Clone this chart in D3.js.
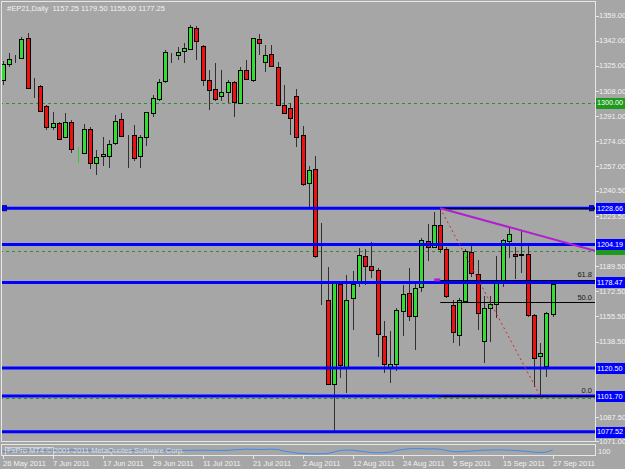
<!DOCTYPE html>
<html>
<head>
<meta charset="utf-8">
<script src="https://cdnjs.cloudflare.com/ajax/libs/d3/7.8.5/d3.min.js"></script>
<style>
    body { margin: 0; background: #a6a6a6; }
    text { font-family: "Liberation Sans", Arial, sans-serif; font-size: 7.5px; }
</style>
</head>
<body>
<div id="chart"></div>
<script>
// #EP21 daily bars, 26 May 2011 .. 27 Sep 2011
const opens = [1316, 1326, 1329, 1330, 1343.5, 1311, 1311.25, 1297.75, 1283.5, 1286.5,
    1277, 1287, 1263.25, 1266.25, 1282.25, 1259.5, 1263.5, 1264, 1272.5, 1288.75,
    1278.25, 1278.25, 1263.5, 1276.5, 1293.25, 1303, 1314.75, 1333.5, 1332.75, 1334.5,
    1336.75, 1350.25, 1338.5, 1315.5, 1309, 1304, 1307, 1314, 1300, 1322.25,
    1315, 1343, 1327.5, 1333, 1324.5, 1298.5, 1296.25, 1304.5, 1278.25, 1246,
    1255, 1196.5, 1166.5, 1109.75, 1177.25, 1121, 1167.75, 1179, 1196.5, 1189.5,
    1187, 1142.5, 1121.5, 1123.5, 1159.5, 1171.5, 1155.75, 1175.25, 1206.5, 1202.75,
    1217.5, 1201, 1163.25, 1142.5, 1166, 1199.25, 1184.25, 1138.5, 1161, 1163.75,
    1178.25, 1206.5, 1197.75, 1196.75, 1197.75, 1156.5, 1128.25, 1122, 1157.25];
const highs = [1328, 1333.5, 1332, 1344.75, 1347, 1316.5, 1312, 1298.5, 1294, 1287.25,
    1293, 1288.25, 1270.25, 1285.5, 1283.75, 1268, 1276.5, 1274.75, 1291.75, 1293,
    1278.5, 1285, 1278, 1293.75, 1305.25, 1316, 1335.75, 1333.75, 1338, 1340.25,
    1352.5, 1352, 1339, 1322.25, 1327, 1322.25, 1315.5, 1315, 1324.5, 1329,
    1343.5, 1346.5, 1339, 1339, 1327.75, 1312, 1300, 1309, 1284.25, 1257.5,
    1264, 1218.5, 1188.75, 1178, 1178, 1183.5, 1186.25, 1201.5, 1201, 1206,
    1188, 1152.5, 1145.75, 1161, 1176.75, 1188, 1178.5, 1208.5, 1218, 1226,
    1228.66, 1202.75, 1166.5, 1167.75, 1201, 1203.25, 1193.75, 1169.25, 1169.25, 1196,
    1208, 1215, 1202.75, 1214, 1203.75, 1157, 1137.75, 1158.75, 1179.5];
const lows = [1312, 1324.5, 1327, 1329.5, 1309.5, 1303, 1294, 1281.5, 1281.5, 1274.5,
    1276.5, 1265.75, 1259, 1265.75, 1255, 1251.25, 1257.25, 1255.75, 1271.5, 1277,
    1256, 1260.25, 1256, 1270.75, 1290.5, 1301, 1313.25, 1327, 1329, 1326.75,
    1336, 1329, 1311.25, 1295, 1301.5, 1301.5, 1300, 1290.5, 1299.5, 1315.5,
    1313.75, 1332.25, 1321, 1324.5, 1297.75, 1292.5, 1278.25, 1270, 1243.75, 1229.75,
    1195, 1163.25, 1109.25, 1077.52, 1113.75, 1103.5, 1146.5, 1175.5, 1176.75, 1181.25,
    1128.25, 1117.5, 1110.75, 1118.25, 1142.25, 1152.5, 1132.5, 1172.25, 1193.25, 1202.25,
    1198.5, 1167.75, 1137.75, 1135.5, 1165.25, 1182, 1146.5, 1123.75, 1138.5, 1154.25,
    1175.5, 1194.75, 1180.5, 1184.75, 1155, 1108, 1101.7, 1114.5, 1155];
const closes = [1326.5, 1329.5, 1329, 1343, 1310, 1311, 1294.5, 1283.5, 1286, 1276,
    1287, 1269, 1263.5, 1282.25, 1259.5, 1263.5, 1265, 1272, 1287.5, 1277.5,
    1278.25, 1263, 1276.5, 1293.5, 1303.5, 1314.25, 1334.5, 1333.5, 1334.5, 1336.75,
    1351.5, 1341.25, 1315.5, 1309, 1302.25, 1307, 1314, 1300.75, 1322.25, 1316,
    1343.5, 1340.25, 1332.25, 1325, 1298.5, 1293.25, 1289.5, 1277, 1245, 1254.5,
    1196, 1196.5, 1109.75, 1178, 1122.25, 1166.25, 1177.25, 1197, 1190, 1186.5,
    1143.75, 1123.5, 1123.5, 1160, 1170.75, 1155.75, 1174.5, 1207.25, 1202.25, 1217.5,
    1201, 1169, 1145.25, 1166.25, 1199.75, 1184.75, 1157.75, 1161, 1163.75, 1178,
    1207.25, 1211.25, 1196.5, 1197.5, 1156.5, 1127.5, 1130.5, 1157.75, 1177.25];

// oscillator in the lower window (0..100)
const oscValues = [35, 30, 40, 45, 48, 50, 48, 47, 48, 47,
    46, 47, 48, 49, 48, 47, 46, 47, 48, 47,
    46, 47, 48, 49, 50, 49, 48, 47, 46, 47,
    46, 47, 48, 47, 46, 45, 46, 52, 55, 58,
    57, 55, 56, 58, 55, 40, 30, 20, 15, 12,
    10, 12, 15, 30, 45, 50, 48, 40, 32, 25,
    22, 24, 28, 45, 55, 62, 64, 63, 60, 62,
    58, 45, 35, 32, 36, 40, 45, 48, 50, 52,
    50, 48, 45, 40, 35, 28, 25, 30, 50];

const dateLabels = ['26 May 2011', '7 Jun 2011', '17 Jun 2011', '29 Jun 2011', '11 Jul 2011', '21 Jul 2011',
    '2 Aug 2011', '12 Aug 2011', '24 Aug 2011', '5 Sep 2011', '15 Sep 2011', '27 Sep 2011'];
const dateStep = 8;

const priceTicks = [1359, 1342, 1325, 1308, 1291, 1274, 1257, 1240.5, 1223.5, 1206.5,
    1189.5, 1172.5, 1155.5, 1138.5, 1121.5, 1104.5, 1087.5, 1071];

const hLevels = [1228.66, 1204.19, 1178.47, 1120.50, 1101.70, 1077.52];
const roundLevels = [1300, 1200, 1100];

const fibLow = 1101.70, fibHigh = 1228.66;
const fibLevels = [0, 50, 61.8, 100];
const fibStartBar = 70, fibEndBar = 86;

// trend line anchors: [bar, price]
const trendStart = [70, 1228.66];
const trendEnd = [86, 1210.1];

const title = '#EP21,Daily  1157.25 1179.50 1155.00 1177.25';

const W = 625, H = 469;
const plotRight = 595, plotBottom = 441;

const svg = d3.select('#chart').append('svg')
    .attr('width', W)
    .attr('height', H)
    .style('display', 'block');

svg.append('rect').attr('width', W).attr('height', H).attr('fill', '#a6a6a6');

const x = d3.scaleLinear().domain([0, 88]).range([2.7, 552.7]);
const y = d3.scaleLinear().domain([1071, 1359]).range([441.3, 15.5]);
const yOsc = d3.scaleLinear().domain([0, 100]).range([455, 445]);
const px = i => Math.round(x(i));

svg.append('defs').append('clipPath').attr('id', 'plot')
    .append('rect').attr('x', 1).attr('y', 1).attr('width', plotRight - 1).attr('height', plotBottom - 1);

const plot = svg.append('g').attr('clip-path', 'url(#plot)');

// round number dashed lines
plot.selectAll('.round').data(roundLevels).join('line')
    .attr('x1', 0).attr('x2', plotRight)
    .attr('y1', d => Math.round(y(d)) + 0.5).attr('y2', d => Math.round(y(d)) + 0.5)
    .attr('stroke', '#2f8f2f').attr('stroke-dasharray', '3,3');

// candles
const bars = d3.range(opens.length).map(i => ({ i, o: opens[i], h: highs[i], l: lows[i], c: closes[i] }));
const candle = plot.selectAll('.candle').data(bars).join('g').attr('shape-rendering', 'crispEdges');

candle.append('line')
    .attr('x1', d => px(d.i) + 0.5).attr('x2', d => px(d.i) + 0.5)
    .attr('y1', d => y(d.h)).attr('y2', d => y(d.l))
    .attr('stroke', d => d.i === 12 ? '#30d030' : '#303030');

candle.append('rect')
    .attr('x', d => px(d.i) - 1.5)
    .attr('width', 4)
    .attr('y', d => Math.round(y(Math.max(d.o, d.c))) + 0.5)
    .attr('height', d => Math.max(Math.round(Math.abs(y(d.o) - y(d.c))), 0))
    .attr('fill', d => d.c > d.o ? '#33dd33' : (d.c < d.o ? '#ee1111' : 'none'))
    .attr('stroke', d => d.i === 12 ? '#30d030' : '#000');

// horizontal support / resistance lines
plot.selectAll('.hl').data(hLevels).join('line')
    .attr('x1', 0).attr('x2', plotRight)
    .attr('y1', d => y(d)).attr('y2', d => y(d))
    .attr('stroke', '#0000ff').attr('stroke-width', 3);

// small anchor squares on the top line
[4.5, 591.5].forEach(cx => {
    plot.append('rect')
        .attr('x', cx - 2).attr('y', y(hLevels[0]) - 2.5)
        .attr('width', 4).attr('height', 5)
        .attr('fill', '#0000ff').attr('stroke', '#0000a0');
});

// fibonacci levels
const fibPrice = lv => fibLow + (fibHigh - fibLow) * lv / 100;
plot.selectAll('.fib').data(fibLevels).join('line')
    .attr('x1', x(fibStartBar)).attr('x2', plotRight)
    .attr('y1', d => Math.round(y(fibPrice(d))) + 0.5).attr('y2', d => Math.round(y(fibPrice(d))) + 0.5)
    .attr('stroke', '#000').attr('stroke-width', 1);
plot.append('line')
    .attr('x1', x(fibStartBar) - 6).attr('x2', x(fibStartBar))
    .attr('y1', y(fibPrice(61.8))).attr('y2', y(fibPrice(61.8)))
    .attr('stroke', '#b020d0').attr('stroke-width', 3);
plot.selectAll('.fibtxt').data(fibLevels.filter(d => d < 100)).join('text')
    .attr('x', 592).attr('y', d => y(fibPrice(d)) - 2.5)
    .attr('text-anchor', 'end')
    .attr('fill', '#1a1a1a')
    .text(d => d.toFixed(1));

// fib diagonal
plot.append('line')
    .attr('x1', x(fibStartBar)).attr('y1', y(fibHigh))
    .attr('x2', x(fibEndBar)).attr('y2', y(fibLow))
    .attr('stroke', '#e02020').attr('stroke-dasharray', '2,3');

// trend line ray
const slope = (y(trendEnd[1]) - y(trendStart[1])) / (x(trendEnd[0]) - x(trendStart[0]));
plot.append('line')
    .attr('x1', x(trendStart[0])).attr('y1', y(trendStart[1]))
    .attr('x2', plotRight).attr('y2', y(trendStart[1]) + slope * (plotRight - x(trendStart[0])))
    .attr('stroke', '#b020d0').attr('stroke-width', 2);

// window frames
const frame = svg.append('g').attr('fill', 'none').attr('stroke', '#e6e6e6').attr('shape-rendering', 'crispEdges');
frame.append('rect').attr('x', 1.5).attr('y', 1.5).attr('width', plotRight - 1).attr('height', plotBottom - 1);
frame.append('rect').attr('x', 1.5).attr('y', 444.5).attr('width', plotRight - 1).attr('height', 11);

// price axis (labels hidden under a price tag are left out)
const tagged = roundLevels.concat(hLevels);
const visibleTicks = priceTicks.filter(t => !tagged.some(v => Math.abs(y(v) - y(t)) < 7));
const axis = svg.append('g').attr('shape-rendering', 'crispEdges');
axis.selectAll('.tick').data(priceTicks).join('line')
    .attr('x1', plotRight).attr('x2', plotRight + 4)
    .attr('y1', d => Math.round(y(d)) + 0.5).attr('y2', d => Math.round(y(d)) + 0.5)
    .attr('stroke', '#e6e6e6');
svg.selectAll('.ptxt').data(visibleTicks).join('text')
    .attr('x', 599).attr('y', d => y(d) + 2.7)
    .attr('fill', '#f2f2f2')
    .text(d => d.toFixed(2));

// price tags for round lines and levels
const tag = (v, color, dy) => {
    svg.append('rect')
        .attr('x', 596).attr('y', Math.round(y(v)) - 5 + dy)
        .attr('width', 30).attr('height', 11)
        .attr('fill', color);
    svg.append('text')
        .attr('x', 597).attr('y', y(v) + 2.7 + dy)
        .attr('fill', '#ffffff')
        .style('font-size', '7.2px')
        .text(v.toFixed(2));
};
tag(roundLevels[0], '#1e9a1e', 0);
roundLevels.slice(1).forEach(v => svg.append('rect')
    .attr('x', 596).attr('y', Math.round(y(v)) - 3)
    .attr('width', 30).attr('height', 7)
    .attr('fill', '#1e9a1e'));
hLevels.forEach(v => tag(v, '#0000ff', 0));

// oscillator window
svg.append('path')
    .datum(oscValues)
    .attr('d', d3.line().x((d, i) => x(i)).y(d => yOsc(d)))
    .attr('fill', 'none').attr('stroke', '#3c8ce8').attr('stroke-width', 1);
svg.append('text').attr('x', 7).attr('y', 453).attr('fill', '#f0f0f0').attr('opacity', 0.8)
    .text('FxPro MT4  \u00a9 2001-2011 MetaQuotes Software Corp.');
svg.append('rect').attr('x', 5.5).attr('y', 447.5).attr('width', 48).attr('height', 8)
    .attr('fill', 'none').attr('stroke', '#f0f0f0').attr('stroke-width', 0.6);
svg.append('text').attr('x', 598).attr('y', 454).attr('fill', '#f0f0f0').text('100');

// date axis
svg.selectAll('.dtick').data(dateLabels).join('line')
    .attr('x1', (d, i) => px(i * dateStep) + 0.5).attr('x2', (d, i) => px(i * dateStep) + 0.5)
    .attr('y1', 456).attr('y2', 459)
    .attr('stroke', '#e6e6e6');
svg.selectAll('.dtxt').data(dateLabels).join('text')
    .attr('x', (d, i) => px(i * dateStep))
    .attr('y', 466)
    .attr('fill', '#f2f2f2')
    .text(d => d);

// title
svg.append('text').attr('x', 7).attr('y', 10.5).attr('fill', '#f2f2f2')
    .attr('xml:space', 'preserve').style('white-space', 'pre')
    .text(title);
</script>
</body>
</html>
